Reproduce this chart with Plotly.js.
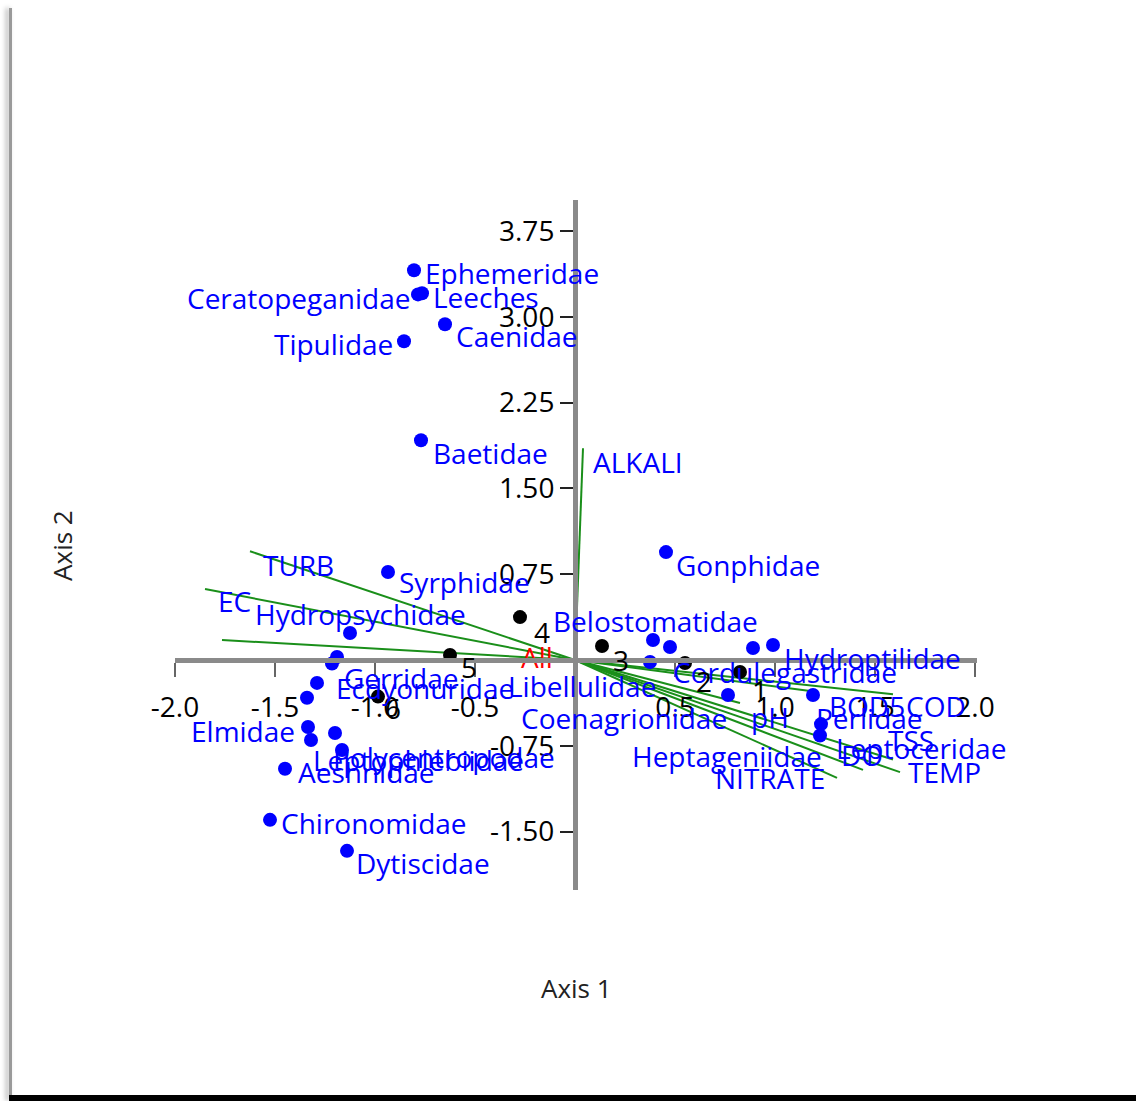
<!DOCTYPE html>
<html><head><meta charset="utf-8">
<script src="https://cdn.plot.ly/plotly-3.0.1.min.js"></script>
<style>
html,body{margin:0;padding:0;background:#fff;}
#wrap{position:relative;width:1136px;height:1101px;overflow:hidden;background:#fff;}
#chart{position:absolute;left:0;top:0;width:1136px;height:1101px;}
#lb{position:absolute;left:9px;top:8px;width:3px;height:1093px;background:#9a9a9a;box-shadow:-3px 0 5px rgba(0,0,0,0.35);}
#bb{position:absolute;left:9px;top:1095px;width:1127px;height:6px;background:#000;}
</style></head><body>
<div id="wrap"><div id="chart"></div><div id="lb"></div><div id="bb"></div></div>
<script>
// ---- data ----
const taxa = ['Ephemeridae','Leeches','Ceratopeganidae','Caenidae','Tipulidae','Baetidae','Syrphidae','Hydropsychidae','Gonphidae',
  'Belostomatidae','Cordulegastridae','Hydroptilidae','','Libellulidae','Coenagrionidae','Perlidae','Leptoceridae','Heptageniidae',
  'Gerridae','Ecdyonuridae','','','Elmidae','Leptophlebiidae','','Polycentropodae','Aeshnidae','Chironomidae','Dytiscidae'];
const taxaAxis1 = [-0.805,-0.765,-0.785,-0.65,-0.855,-0.77,-0.935,-1.125,0.455,
  0.39,0.475,0.99,0.89,0.375,0.765,1.19,1.23,1.225,
  -1.19,-1.215,-1.29,-1.34,-1.335,-1.32,-1.20,-1.165,-1.45,-1.525,-1.14];
const taxaAxis2 = [3.406,3.205,3.195,2.934,2.786,1.921,0.769,0.236,0.943,
  0.175,0.114,0.131,0.105,-0.017,-0.306,-0.306,-0.56,-0.66,
  0.026,-0.03,-0.2,-0.33,-0.585,-0.699,-0.638,-0.786,-0.95,-1.397,-1.668];

const sites = ['1','2','3','4','5','6'];
const siteAxis1 = [0.825,0.55,0.135,-0.275,-0.625,-0.985];
const siteAxis2 = [-0.105,-0.026,0.122,0.375,0.044,-0.32];

const envVars = ['ALKALI','TURB','EC','','COD','BOD5','pH','TSS','TEMP','DO','NITRATE'];
const envAxis1 = [0.04,-1.625,-1.85,-1.765,1.59,1.215,0.825,1.59,1.625,1.44,1.31];
const envAxis2 = [1.85,0.95,0.62,0.175,-0.30,-0.28,-0.375,-0.87,-0.98,-0.96,-1.03];

const centroidLabel = ['All'];
const centroidAxis1 = [-0.19];
const centroidAxis2 = [-0.01];

const xTickVals = [-2,-1.5,-1,-0.5,0.5,1,1.5,2];
const xTickText = ['-2.0','-1.5','-1.0','-0.5','0.5','1.0','1.5','2.0'];
const yTickVals = [-1.5,-0.75,0.75,1.5,2.25,3,3.75];
const yTickText = ['-1.50','-0.75','0.75','1.50','2.25','3.00','3.75'];

// ---- label placement (style): [anchor, dx px, dy px (down)] ----
const taxaPlace = [['left',10,3],['left',10,4],['right',-7,4],['left',10,12],['right',-10,3],['left',11,13],['left',10,10],['center',10,-19],['left',9,13],
  ['center',2,-19],['left',2,25],['left',10,13],['left',10,24],['right',7,24],['right',0,23],['left',2,23],['left',14,24],['right',3,20],
  ['left',6,21],['left',3,25],['left',10,0],['left',10,0],['right',-12,4],['left',1,20],['left',10,0],['left',-10,7],['left',12,3],['left',10,3],['left',8,12]];
const sitePlace = [['left',11,18],['left',10,18],['left',10,14],['left',13,15],['left',10,12],['left',6,11]];
const envPlace = [['left',9,14],['left',12,14],['left',12,12],['left',0,0],['left',12,12],['left',10,14],['left',10,14],['left',-6,-20],['left',7,0],['left',-23,-15],['right',-11,0]];

const FONT = 'Open Sans, Noto Sans, sans-serif';
const BLUE = '#0000ff';
const GREEN = '#1a8f1a';

// build vector lines from origin
const lx = [], ly = [];
envAxis1.forEach((v,i)=>{ lx.push(0, v, null); ly.push(0, envAxis2[i], null); });

const traces = [
  {type:'scatter', mode:'lines', x:lx, y:ly, line:{color:GREEN, width:2}, hoverinfo:'skip', showlegend:false},
  {type:'scatter', mode:'markers', x:taxaAxis1, y:taxaAxis2, marker:{color:BLUE, size:14}, cliponaxis:false, showlegend:false},
  {type:'scatter', mode:'markers', x:siteAxis1, y:siteAxis2, marker:{color:'#000', size:14}, cliponaxis:false, showlegend:false},
  {type:'scatter', mode:'text', x:centroidAxis1, y:centroidAxis2, text:centroidLabel, textposition:'middle center',
   textfont:{family:FONT, size:28, color:'#ff0000'}, cliponaxis:false, showlegend:false}
];

function labels(names, xs, ys, place, color){
  const out = [];
  names.forEach((t,i)=>{
    if(!t) return;
    const p = place[i];
    out.push({text:t, x:xs[i], y:ys[i], xref:'x', yref:'y', showarrow:false,
      xanchor:p[0], yanchor:'middle', xshift:p[1], yshift:-p[2], borderpad:0,
      font:{family:FONT, size:28, color:color}});
  });
  return out;
}

const xr = [-2, 2.01], yr = [-2.01, 4.02];
const annotations = [].concat(
  labels(envVars, envAxis1, envAxis2, envPlace, BLUE),
  labels(taxa, taxaAxis1, taxaAxis2, taxaPlace, BLUE),
  labels(sites, siteAxis1, siteAxis2, sitePlace, '#000'),
  [
    {text:'Axis 1', xref:'paper', yref:'paper', x:0.5, y:-0.142, showarrow:false, xanchor:'center', yanchor:'middle',
     font:{family:FONT, size:26, color:'#222'}},
    {text:'Axis 2', xref:'paper', yref:'paper', x:-0.141, y:0.5, showarrow:false, textangle:-90, xanchor:'center', yanchor:'middle',
     font:{family:FONT, size:26, color:'#222'}}
  ]);

const layout = {
  width:1136, height:1101,
  margin:{l:175, r:159, t:200, b:211, autoexpand:false},
  paper_bgcolor:'rgba(0,0,0,0)', plot_bgcolor:'rgba(0,0,0,0)',
  showlegend:false,
  xaxis:{range:xr, anchor:'free', position:(0-yr[0])/(yr[1]-yr[0]), showgrid:false, zeroline:false,
    showline:true, linecolor:'#8a8a8a', linewidth:5,
    tickmode:'array', tickvals:xTickVals, ticktext:xTickText, ticks:'outside', ticklen:14, tickwidth:2, tickcolor:'#666',
    ticklabelstandoff:6, tickfont:{family:FONT, size:28, color:'#000'}, fixedrange:true},
  yaxis:{range:yr, anchor:'free', position:(0-xr[0])/(xr[1]-xr[0]), showgrid:false, zeroline:false,
    showline:true, linecolor:'#8a8a8a', linewidth:5,
    tickmode:'array', tickvals:yTickVals, ticktext:yTickText, ticks:'outside', ticklen:13, tickwidth:2, tickcolor:'#222',
    tickfont:{family:FONT, size:28, color:'#000'}, fixedrange:true},
  annotations:annotations
};
Plotly.newPlot('chart', traces, layout, {staticPlot:true, displayModeBar:false});
</script>
</body></html>
